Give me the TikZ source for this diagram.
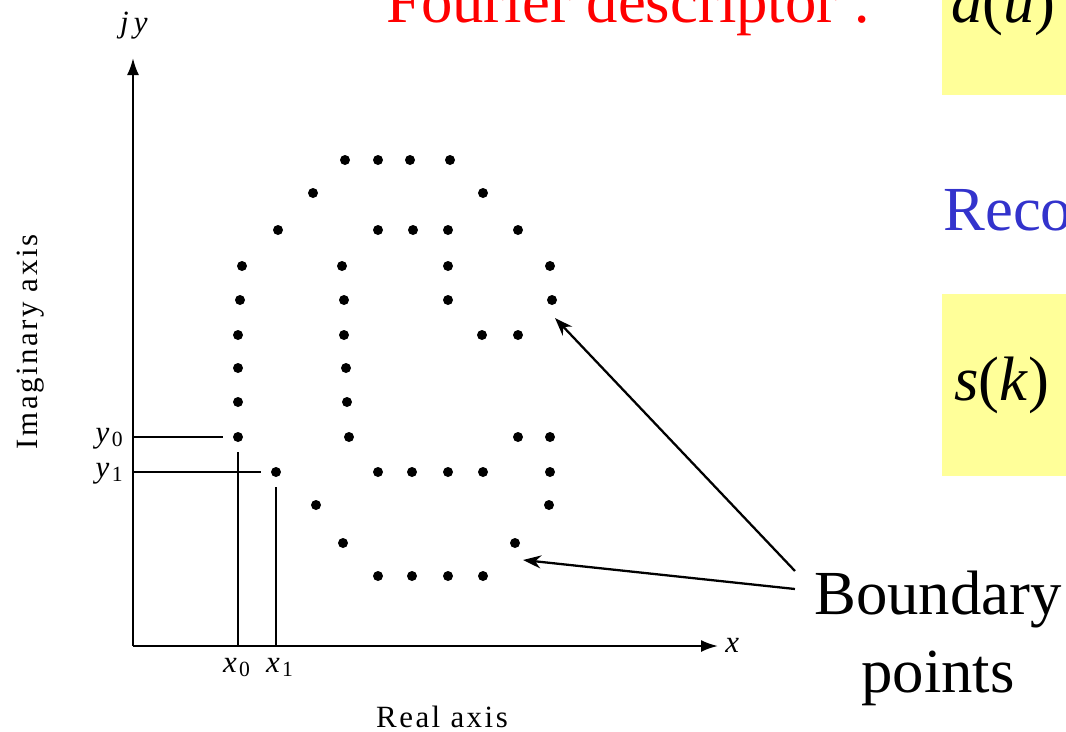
\documentclass[tikz,border=0pt]{standalone}
\usepackage{fontspec}
\setmainfont{Liberation Serif}
\newfontfamily\axisfont[LetterSpace=8]{Liberation Serif}
\usetikzlibrary{arrows.meta}
\definecolor{fdred}{HTML}{FF0000}
\definecolor{rcblue}{HTML}{3333CC}
\definecolor{hlyellow}{HTML}{FFFF99}

\begin{document}
\begin{tikzpicture}[x=0.02cm, y=-0.02cm,
  dot/.style={circle, fill, inner sep=0pt, minimum size=0.2cm},
  big/.style={font=\fontsize{35.7}{44}\selectfont, inner sep=0pt},
  small/.style={font=\axisfont\fontsize{17.6}{20}\selectfont, inner sep=0pt},
  axis/.style={line width=1.25pt, -{Latex[length=0.34cm, width=0.24cm]}},
  ref/.style={line width=1pt, shorten <=0.2cm},
  ptr/.style={line width=1.3pt, -{Stealth[length=0.36cm, width=0.26cm]}},
  hl/.style={fill=hlyellow, inner sep=0pt, anchor=north west}
]
\useasboundingbox (0,0) rectangle (1066,731);
\clip (0,0) rectangle (1066,731);

\node[hl, minimum width=2.6cm, minimum height=1.9cm] (boxa) at (942,0) {};
\node[hl, minimum width=2.6cm, minimum height=3.64cm] (boxs) at (942,294) {};

\node[big, text=fdred, anchor=base west] (fd) at (386,22) {Fourier descriptor :};
\node[big, anchor=base west] (au) at (951,22) {\textit{a}(\textit{u})};
\node[big, text=rcblue, anchor=base west] (rc) at (943,230) {Reco};
\node[big, anchor=base west] (sk) at (954,400) {\textit{s}(\textit{k})};
\node[big, align=center, anchor=north] (bp) at (938,571) {Boundary\\points};

\coordinate (O) at (133,646);
\coordinate (ytip) at (133,58);
\coordinate (xtip) at (718,646);
\draw[axis] (O) -- (ytip);
\draw[axis] (O) -- (xtip);
\node[small, anchor=base] (jy) at (135,32) {\textit{j\,y}};
\node[small, anchor=base west] (xl) at (725,652) {\textit{x}};
\node[small, rotate=90] (imag) at (31,342) {Imaginary axis};
\node[small, anchor=base] (real) at (442,727) {Real axis};

\foreach \px/\py in {345/160, 378/160, 410/160, 450/160, 313/193, 483/193,
  278/230, 378/230, 413/230, 448/230, 518/230, 242/266, 342/266, 448/266, 550/266,
  240/300, 344/300, 448/300, 552/300, 238/335, 344/335, 482/335, 518/335,
  238/368, 346/368, 238/402, 347/402, 349/437, 518/437, 550/437,
  378/472, 412/472, 448/472, 483/472, 550/472, 316/505, 549/505,
  343/543, 515/543, 378/576, 412/576, 448/576, 483/576}
  \node[dot] at (\px,\py) {};
\node[dot] (p0) at (238,437) {};
\node[dot] (p1) at (276,472) {};

\draw[ref] (p0) -- (p0 -| O);
\draw[ref] (p0) -- (p0 |- O);
\draw[ref] (p1) -- (p1 -| O);
\draw[ref] (p1) -- (p1 |- O);
\node[small, anchor=base east] (y0) at (124,442) {\textit{y}\textsubscript{0}};
\node[small, anchor=base east] (y1) at (124,477) {\textit{y}\textsubscript{1}};
\node[small, anchor=base] (x0) at (237,672) {\textit{x}\textsubscript{0}};
\node[small, anchor=base] (x1) at (280,672) {\textit{x}\textsubscript{1}};

\coordinate (tipa) at (555,318);
\coordinate (tipb) at (523,560);
\draw[ptr] ([xshift=-0.38cm]bp.north west) -- (tipa);
\draw[ptr] ([xshift=-0.38cm, yshift=-0.36cm]bp.north west) -- (tipb);
\end{tikzpicture}
\end{document}
